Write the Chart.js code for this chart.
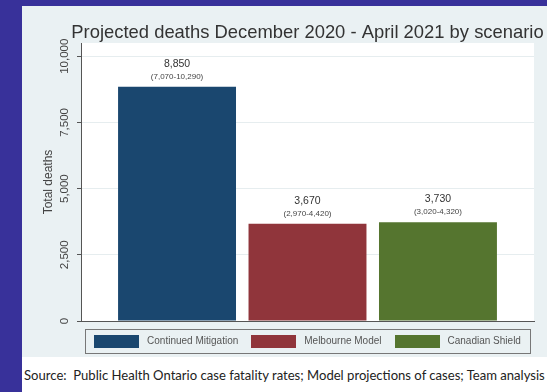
<!DOCTYPE html>
<html><head><meta charset="utf-8">
<script src="https://cdn.jsdelivr.net/npm/chart.js@4.4.1/dist/chart.umd.min.js"></script>
<style>
html,body{margin:0;padding:0;}
body{width:547px;height:392px;background:#38319a;position:relative;overflow:hidden;}
#panel{position:absolute;left:22px;top:6px;width:525px;height:386px;background:#fff;}
#wrap{position:absolute;left:0;top:0;width:525px;height:351px;background:#eaf1f3;}
#source{position:absolute;left:2px;top:362px;white-space:pre;font-family:Lato,"Open Sans",sans-serif;font-size:12px;color:#222;line-height:14px;}
</style></head>
<body>
<div id="panel"><div id="wrap"><canvas id="c" width="525" height="351"></canvas></div>
<div id="source">Source:  Public Health Ontario case fatality rates; Model projections of cases; Team analysis</div></div>
<script>
const titleText = 'Projected deaths December 2020 - April 2021 by scenario';
const yTitle = 'Total deaths';
const scenarios = ['Continued Mitigation', 'Melbourne Model', 'Canadian Shield'];
const deaths = [8850, 3670, 3730];
const ciLow = [7070, 2970, 3020];
const ciHigh = [10290, 4420, 4320];
const yTicks = [0, 2500, 5000, 7500, 10000];
const colors = ['#1a476f', '#90353b', '#55752f'];

const FONT = '"Liberation Sans", Arial, sans-serif';
const fmt = v => v.toLocaleString('en-US');

const customPlugin = {
  id: 'custom',
  beforeDraw(chart) {
    const {ctx, chartArea: a} = chart;
    ctx.save();
    ctx.fillStyle = '#ffffff';
    ctx.fillRect(a.left, a.top, a.right - a.left, a.bottom - a.top);
    ctx.restore();
  },
  afterDraw(chart) {
    const {ctx, chartArea: a} = chart;
    const y = chart.scales.y;
    ctx.save();
    // title
    ctx.fillStyle = '#333';
    ctx.font = '18.4px ' + FONT;
    ctx.textAlign = 'center';
    ctx.textBaseline = 'middle';
    ctx.fillText(titleText, (a.left + a.right) / 2, 27);
    // y tick labels
    ctx.font = '11.5px ' + FONT;
    ctx.fillStyle = '#444';
    y.ticks.forEach(t => {
      const py = y.getPixelForValue(t.value);
      ctx.save();
      ctx.translate(a.left - 16.5, py);
      ctx.rotate(-Math.PI / 2);
      ctx.fillText(fmt(t.value), 0, 0);
      ctx.restore();
    });
    // y title
    ctx.font = '12px ' + FONT;
    ctx.save();
    ctx.translate(a.left - 32, (a.top + a.bottom) / 2);
    ctx.rotate(-Math.PI / 2);
    ctx.fillText(yTitle, 0, 0);
    ctx.restore();
    // value labels
    chart.data.datasets.forEach((ds, i) => {
      const bar = chart.getDatasetMeta(i).data[0];
      ctx.fillStyle = '#333';
      ctx.font = '10.5px ' + FONT;
      ctx.fillText(fmt(deaths[i]), bar.x, bar.y - 23);
      ctx.fillStyle = '#444';
      ctx.font = '8px ' + FONT;
      ctx.fillText('(' + fmt(ciLow[i]) + '-' + fmt(ciHigh[i]) + ')', bar.x, bar.y - 10);
    });
    // legend
    const bx = a.left + 4, bw = a.right - a.left - 8, by = a.bottom + 8, bh = 24;
    ctx.strokeStyle = '#777';
    ctx.lineWidth = 1;
    ctx.strokeRect(Math.round(bx) + 0.5, Math.round(by) + 0.5, Math.round(bw), bh);
    ctx.font = '10px ' + FONT;
    const sw = 45, sh = 13, gapT = 8, gapI = 13;
    const widths = scenarios.map(s => sw + gapT + ctx.measureText(s).width);
    const total = widths.reduce((p, c) => p + c, 0) + gapI * (scenarios.length - 1);
    let x = bx + (bw - total) / 2;
    const cy = by + bh / 2 + 0.5;
    scenarios.forEach((s, i) => {
      ctx.fillStyle = colors[i];
      ctx.fillRect(Math.round(x), Math.round(cy - sh / 2), sw, sh);
      ctx.fillStyle = '#555';
      ctx.textAlign = 'left';
      ctx.fillText(s, x + sw + gapT, cy);
      x += widths[i] + gapI;
    });
    ctx.restore();
  }
};

new Chart(document.getElementById('c'), {
  type: 'bar',
  data: {
    labels: [''],
    datasets: scenarios.map((s, i) => ({
      label: s,
      data: [deaths[i]],
      backgroundColor: colors[i],
      borderWidth: 0,
      categoryPercentage: 0.864,
      barPercentage: 0.904
    }))
  },
  options: {
    responsive: false,
    animation: false,
    layout: {padding: {left: 59, top: 37, right: 13, bottom: 36}},
    plugins: {legend: {display: false}, title: {display: false}, tooltip: {enabled: false}},
    scales: {
      x: {
        ticks: {display: false},
        grid: {display: false, drawTicks: false},
        border: {display: true, color: '#555', width: 1},
        afterFit: s => { s.height = 0; }
      },
      y: {
        min: 0, max: 10500,
        afterBuildTicks: s => { s.ticks = yTicks.map(v => ({value: v})); },
        ticks: {display: false},
        grid: {color: '#e6edef', tickColor: '#555', tickLength: 4, drawTicks: true},
        border: {display: true, color: '#555', width: 1},
        afterFit: s => { s.width = 0; }
      }
    }
  },
  plugins: [customPlugin]
});

// fit source text width to the reference
(function () {
  const el = document.getElementById('source');
  const target = 521;
  const w = el.getBoundingClientRect().width;
  if (w > 0) el.style.fontSize = (12 * target / w).toFixed(2) + 'px';
})();
</script>
</body></html>
